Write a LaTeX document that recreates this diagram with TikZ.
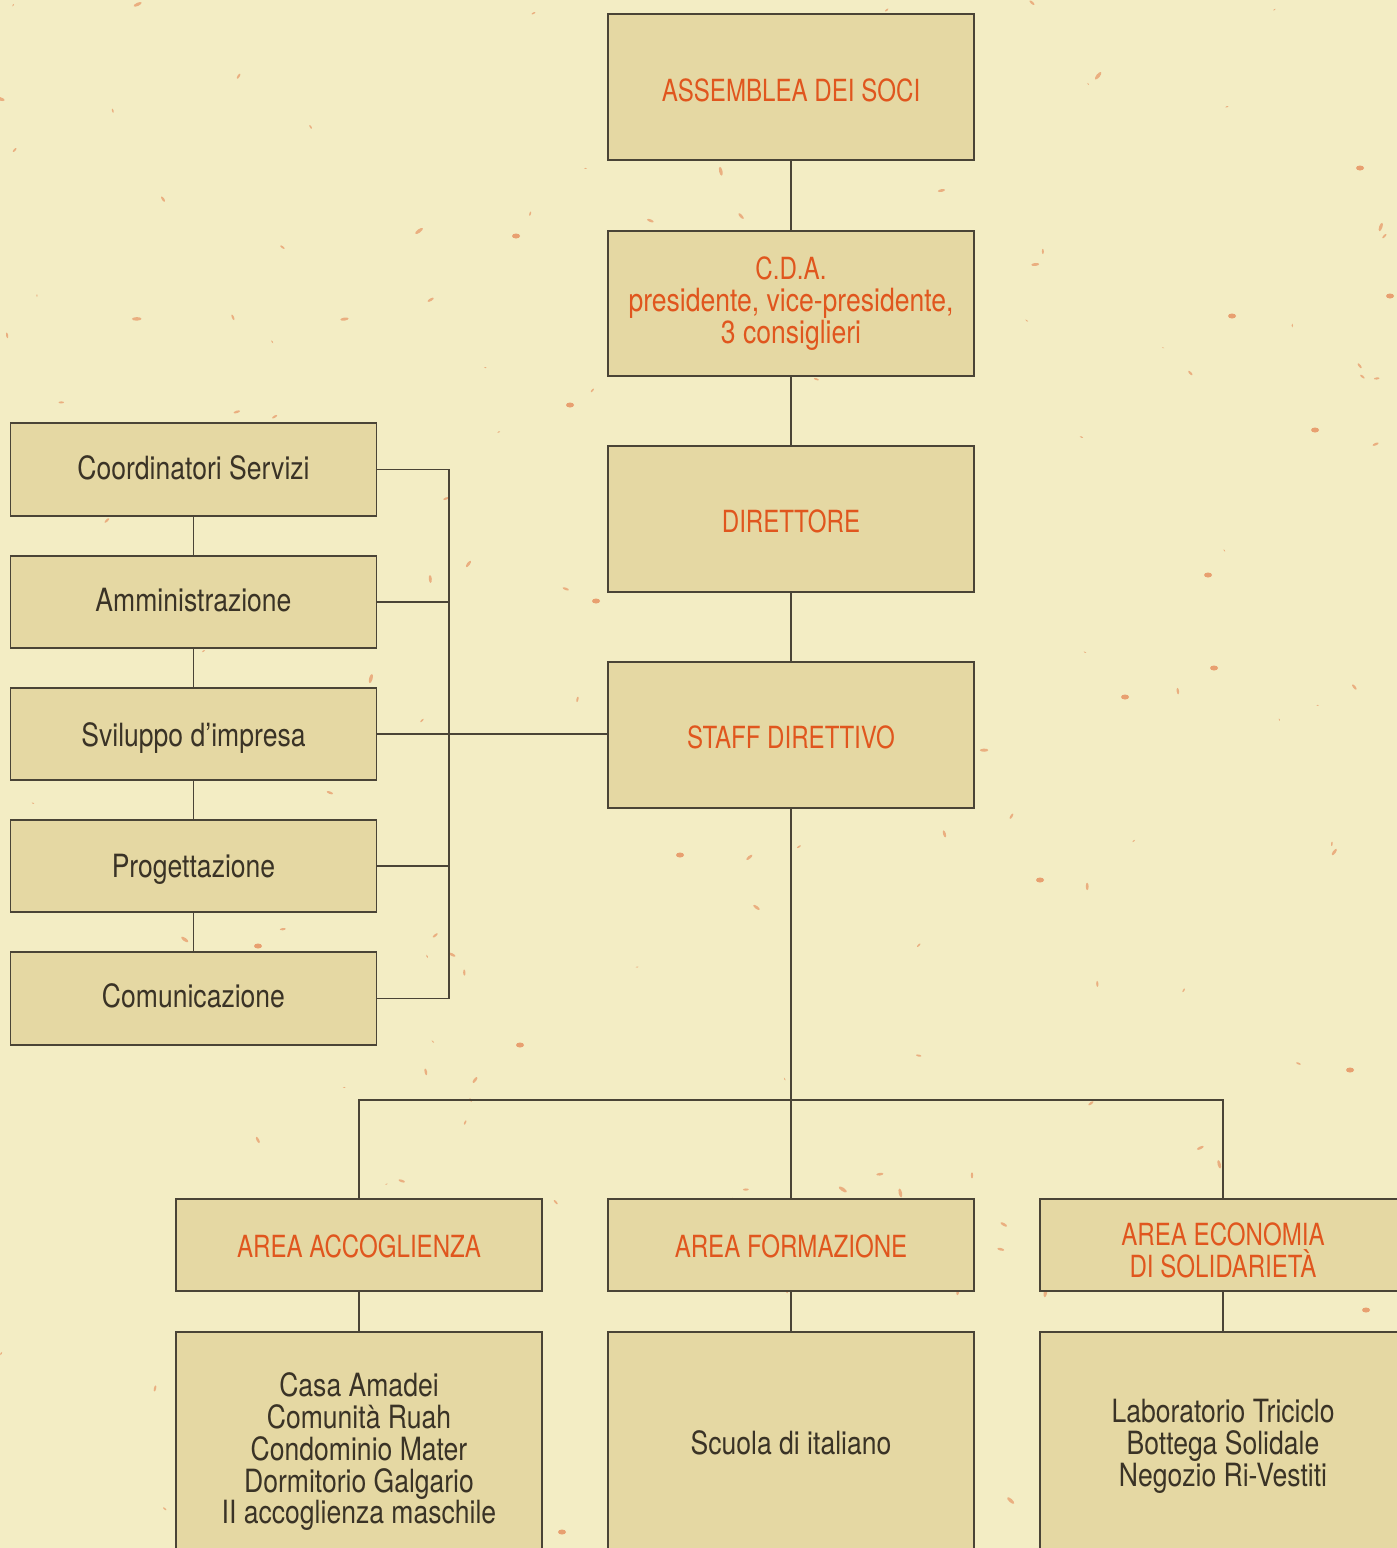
\documentclass[tikz,border=0pt]{standalone}
\usepackage{fontspec}
\setmainfont[FakeStretch=0.83]{TeX Gyre Heros}
\newfontfamily\capsfont[FakeStretch=0.79]{TeX Gyre Heros}
\definecolor{bgc}{HTML}{F3EDC4}
\definecolor{boxc}{HTML}{E5D8A3}
\definecolor{linec}{HTML}{4A4436}
\definecolor{orangec}{HTML}{E0561E}
\definecolor{darkc}{HTML}{3A3326}
\definecolor{fleck}{HTML}{E8A070}
\tikzset{
  orgbox/.style={draw=linec, line width=1.4pt, fill=boxc, minimum width=366pt, inner sep=0pt},
  captext/.style={inner sep=0pt, anchor=base, text=orangec, font=\capsfont\fontsize{30.5}{32}\selectfont},
  orangetext/.style={inner sep=0pt, anchor=base, text=orangec, font=\fontsize{32}{32}\selectfont},
  darktext/.style={inner sep=0pt, anchor=base, text=darkc, font=\fontsize{32}{32}\selectfont},
  link/.style={draw=linec, line width=1.4pt}
}
\begin{document}
\begin{tikzpicture}[x=1pt,y=-1pt]
\fill[bgc] (0,0) rectangle (1397,1548);
\useasboundingbox (0,0) rectangle (1397,1548);
% flecks
\pgfmathsetseed{11}
\foreach \i in {1,...,170}{
  \pgfmathsetmacro{\px}{rnd*1397}
  \pgfmathsetmacro{\py}{rnd*1548}
  \pgfmathsetmacro{\ang}{rnd*180}
  \pgfmathsetmacro{\sz}{0.8+rnd*2.2}
  \fill[fleck, opacity=0.8, rotate around={\ang:(\px,\py)}] (\px,\py) ellipse ({\sz*1.6pt} and {\sz*0.6pt});
}
\foreach \px/\py in {516/236,570/405,596/601,258/946,1390/296,1315/430,1360/168,1214/668,1232/316,1208/575,1040/880,1350/1070,562/1532,1366/1310,520/1045,680/855,1125/697}{
  \fill[fleck] (\px,\py) ellipse (4pt and 2.5pt);
}
% ---- boxes ----
\node[orgbox, minimum height=146pt] (ass) at (791,87) {};
\node[orgbox, minimum height=145pt] (cda) at (791,303.5) {};
\node[orgbox, minimum height=146pt] (dir) at (791,519) {};
\node[orgbox, minimum height=146pt] (staff) at (791,735) {};
\node[orgbox, minimum height=93pt] (coord) at (193.5,469.5) {};
\node[orgbox, minimum height=92pt] (amm) at (193.5,602) {};
\node[orgbox, minimum height=92pt] (svil) at (193.5,734) {};
\node[orgbox, minimum height=92pt] (prog) at (193.5,866) {};
\node[orgbox, minimum height=93pt] (com) at (193.5,998.5) {};
\node[orgbox, minimum height=92pt] (acc) at (359,1245) {};
\node[orgbox, minimum height=92pt] (form) at (791,1245) {};
\node[orgbox, minimum height=92pt] (eco) at (1223,1245) {};
\node[orgbox, minimum height=228pt] (accb) at (359,1446) {};
\node[orgbox, minimum height=228pt] (formb) at (791,1446) {};
\node[orgbox, minimum height=228pt] (ecob) at (1223,1446) {};
% ---- texts ----
\node[captext] (assT) at (791,101) {ASSEMBLEA DEI SOCI};
\node[captext] (cdaT1) at (791,279) {C.D.A.};
\node[orangetext] (cdaT2) at (791,311) {presidente, vice-presidente,};
\node[orangetext] (cdaT3) at (791,343) {3 consiglieri};
\node[captext] (dirT) at (791,532) {DIRETTORE};
\node[captext] (staffT) at (791,748) {STAFF DIRETTIVO};
\node[darktext] (coordT) at (193.5,479) {Coordinatori Servizi};
\node[darktext] (ammT) at (193.5,611.5) {Amministrazione};
\node[darktext] (svilT) at (193.5,746) {Sviluppo d’impresa};
\node[darktext] (progT) at (193.5,877) {Progettazione};
\node[darktext] (comT) at (193.5,1007) {Comunicazione};
\node[captext] (accT) at (359,1257) {AREA ACCOGLIENZA};
\node[captext] (formT) at (791,1257) {AREA FORMAZIONE};
\node[captext] (ecoT1) at (1223,1245) {AREA ECONOMIA};
\node[captext] (ecoT2) at (1223,1277) {DI SOLIDARIETÀ};
\node[darktext] (accb1) at (359,1396) {Casa Amadei};
\node[darktext] (accb2) at (359,1428) {Comunità Ruah};
\node[darktext] (accb3) at (359,1460) {Condominio Mater};
\node[darktext] (accb4) at (359,1492) {Dormitorio Galgario};
\node[darktext] (accb5) at (359,1523) {II accoglienza maschile};
\node[darktext] (formb1) at (791,1454) {Scuola di italiano};
\node[darktext] (ecob1) at (1223,1422) {Laboratorio Triciclo};
\node[darktext] (ecob2) at (1223,1454) {Bottega Solidale};
\node[darktext] (ecob3) at (1223,1486) {Negozio Ri-Vestiti};
% coordinates
\coordinate (bus) at (449,734);
\coordinate (hub) at (791,1100);
% connectors
\draw[link] (ass) -- (cda);
\draw[link] (cda) -- (dir);
\draw[link] (dir) -- (staff);
\draw[link] (coord) -- (amm);
\draw[link] (amm) -- (svil);
\draw[link] (svil) -- (prog);
\draw[link] (prog) -- (com);
\draw[link] (coord.east) -| (bus);
\draw[link] (com.east) -| (bus);
\draw[link] (amm.east) -- (amm.east -| bus);
\draw[link] (prog.east) -- (prog.east -| bus);
\draw[link] (svil.east) -- (svil.east -| staff.west);
\draw[link] (staff.south) -- (hub);
\draw[link] (hub) -| (acc.north);
\draw[link] (hub) -| (eco.north);
\draw[link] (hub) -- (form.north);
\draw[link] (acc) -- (accb);
\draw[link] (form) -- (formb);
\draw[link] (eco) -- (ecob);
\end{tikzpicture}
\end{document}
